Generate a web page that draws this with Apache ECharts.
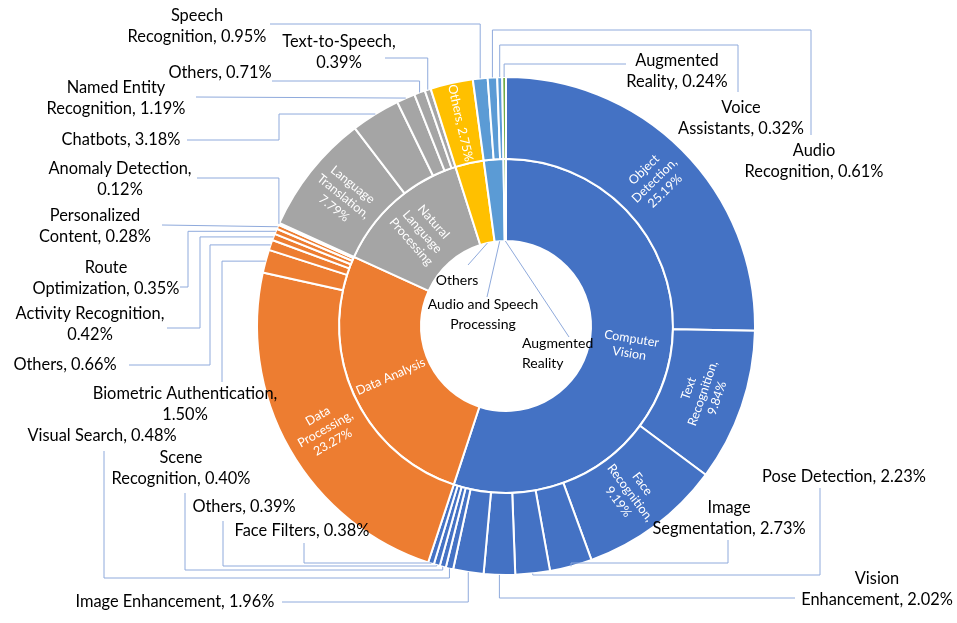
<!DOCTYPE html>
<html>
<head>
<meta charset="utf-8">
<script src="https://cdn.jsdelivr.net/npm/echarts@6/dist/echarts.min.js"></script>
<style>
html,body{margin:0;padding:0;background:#fff;}
#chart{width:957px;height:623px;}
</style>
</head>
<body>
<div id="chart"></div>
<script>
// ---------------- data ----------------
const groupNames = ['Computer Vision', 'Data Analysis', 'Natural Language Processing', 'Others', 'Audio and Speech Processing', 'Augmented Reality'];
const groupColors = ['#4472C4', '#ED7D31', '#A5A5A5', '#FFC000', '#5B9BD5', '#70AD47'];

const cvNames = ['Object Detection', 'Text Recognition', 'Face Recognition', 'Image Segmentation', 'Pose Detection', 'Vision Enhancement', 'Image Enhancement', 'Visual Search', 'Scene Recognition', 'Others', 'Face Filters'];
const cvValues = [25.19, 9.84, 9.19, 2.73, 2.23, 2.02, 1.96, 0.48, 0.40, 0.39, 0.38];

const daNames = ['Data Processing', 'Biometric Authentication', 'Others', 'Activity Recognition', 'Route Optimization', 'Personalized Content', 'Anomaly Detection'];
const daValues = [23.27, 1.50, 0.66, 0.42, 0.35, 0.28, 0.12];

const nlpNames = ['Language Translation', 'Chatbots', 'Named Entity Recognition', 'Others', 'Text-to-Speech'];
const nlpValues = [7.79, 3.18, 1.19, 0.71, 0.39];

const othNames = ['Others'];
const othValues = [2.75];

const aspNames = ['Speech Recognition', 'Audio Recognition', 'Voice Assistants'];
const aspValues = [0.95, 0.61, 0.32];

const arNames = ['Augmented Reality'];
const arValues = [0.24];

const childNames = [cvNames, daNames, nlpNames, othNames, aspNames, arNames];
const childValues = [cvValues, daValues, nlpValues, othValues, aspValues, arValues];

// ---------------- layout / style ----------------
const CX = 506, CY = 326, R0 = 85, R1 = 167, R2 = 249;
const FONT = 'Lato, "Open Sans", sans-serif';
const LINE_COLOR = '#8FAADC';

// labels drawn inside the sectors (white)
const insideLabels = {
  'Computer Vision': {rotate: 'radial', each: true, pct: false, size: 12.5},
  'Data Analysis': {rotate: 'radial', each: false, pct: false, size: 12.5},
  'Natural Language Processing': {rotate: 'radial', each: true, pct: false, size: 12.5},
  'Computer Vision|Object Detection': {rotate: 'radial', each: true, pct: true, size: 12.5},
  'Computer Vision|Text Recognition': {rotate: 'tangential', each: true, pct: true, size: 12.5},
  'Computer Vision|Face Recognition': {rotate: 'radial', each: true, pct: true, size: 12.5},
  'Data Analysis|Data Processing': {rotate: 'radial', each: true, pct: true, size: 12.5},
  'Natural Language Processing|Language Translation': {rotate: 'radial', each: true, pct: true, size: 12.5},
  'Others|Others': {rotate: 'radial', each: false, pct: true, size: 12.5}
};

// labels placed around the chart with leader lines (outer ring)
const outerLabels = {
  'Audio and Speech Processing|Speech Recognition': {x: 197, y: 26, wrap: 1, route: [['v', 24], ['h', 270]]},
  'Audio and Speech Processing|Audio Recognition': {x: 814, y: 161, wrap: 1, route: [['v', 30], ['h', 811], ['v', 135]]},
  'Audio and Speech Processing|Voice Assistants': {x: 741, y: 118, wrap: 1, route: [['v', 45], ['h', 738], ['v', 92]]},
  'Augmented Reality|Augmented Reality': {x: 677, y: 71, wrap: 1, route: [['v', 64], ['h', 626]]},
  'Natural Language Processing|Text-to-Speech': {x: 339, y: 52, wrap: 1, route: [['v', 58], ['h', 385]]},
  'Natural Language Processing|Others': {x: 220, y: 73, wrap: 0, route: [['v', 81], ['h', 272]]},
  'Natural Language Processing|Named Entity Recognition': {x: 116, y: 98, wrap: 2, route: [['p', 196, 97]]},
  'Natural Language Processing|Chatbots': {x: 121, y: 140, wrap: 0, route: [['h', 279], ['v', 140], ['h', 187]]},
  'Data Analysis|Anomaly Detection': {x: 120, y: 179, wrap: 2, route: [['v', 178], ['h', 197]]},
  'Data Analysis|Personalized Content': {x: 95, y: 226, wrap: 1, route: [['p', 162, 225]]},
  'Data Analysis|Route Optimization': {x: 106, y: 278, wrap: 1, route: [['h', 188], ['v', 287], ['h', 180]]},
  'Data Analysis|Activity Recognition': {x: 90, y: 324, wrap: 2, route: [['h', 200], ['v', 328], ['h', 167]]},
  'Data Analysis|Others': {x: 65, y: 365, wrap: 0, route: [['h', 210], ['v', 365], ['h', 129]]},
  'Data Analysis|Biometric Authentication': {x: 185, y: 404, wrap: 2, route: [['h', 222], ['v', 382]]},
  'Computer Vision|Visual Search': {x: 102, y: 436, wrap: 0, route: [['v', 578], ['h', 104], ['v', 451]]},
  'Computer Vision|Scene Recognition': {x: 181, y: 468, wrap: 1, route: [['v', 570], ['h', 185], ['v', 493]]},
  'Computer Vision|Others': {x: 244, y: 507, wrap: 0, route: [['v', 566], ['h', 223], ['v', 521]]},
  'Computer Vision|Face Filters': {x: 302, y: 531, wrap: 0, route: [['v', 563], ['h', 304], ['v', 543]]},
  'Computer Vision|Image Enhancement': {x: 175, y: 602, wrap: 0, route: [['v', 602], ['h', 282]]},
  'Computer Vision|Vision Enhancement': {x: 877, y: 589, wrap: 1, route: [['v', 598], ['h', 795]]},
  'Computer Vision|Pose Detection': {x: 844, y: 477, wrap: 0, route: [['v', 575], ['h', 820], ['v', 488]]},
  'Computer Vision|Image Segmentation': {x: 729, y: 518, wrap: 1, route: [['v', 563], ['h', 728], ['v', 540]]}
};

// labels of small inner-ring sectors, placed in the hole
const innerLabels = {
  'Others': {x: 457, y: 280, wrap: 0, route: [['p', 468, 265]]},
  'Audio and Speech Processing': {x: 483, y: 314, wrap: 3, route: [['p', 487, 297]]},
  'Augmented Reality': {x: 522, y: 353, align: 'left', wrap: 1, route: [['p', 569, 337]]}
};

function pctText(v) { return v.toFixed(2) + '%'; }
function wrapText(text, k) {
  if (!k) return text;
  const w = text.split(' ');
  return w.slice(0, k).join(' ') + '\n' + w.slice(k).join(' ');
}
function insideText(name, value, cfg) {
  let t = cfg.pct ? name + ', ' + pctText(value) : name;
  return cfg.each ? t.split(' ').join('\n') : t;
}

// ---------------- sunburst data ----------------
const sunData = groupNames.map((g, gi) => {
  const gcfg = insideLabels[g];
  const gsum = childValues[gi].reduce((a, b) => a + b, 0);
  return {
    name: g,
    itemStyle: {color: groupColors[gi]},
    label: gcfg ? {show: true, rotate: gcfg.rotate, formatter: insideText(g, gsum, gcfg), fontSize: gcfg.size} : {show: false},
    children: childNames[gi].map((n, ci) => {
      const key = g + '|' + n;
      const cfg = insideLabels[key];
      const v = childValues[gi][ci];
      return {
        name: n,
        value: v,
        itemStyle: {color: groupColors[gi]},
        label: cfg ? {show: true, rotate: cfg.rotate, formatter: insideText(n, v, cfg), fontSize: cfg.size} : {show: false}
      };
    })
  };
});

// ---------------- pie overlays for leader-line labels ----------------
const outerPieData = [];
const outerCfgList = [];
groupNames.forEach((g, gi) => {
  childNames[gi].forEach((n, ci) => {
    const key = g + '|' + n;
    const cfg = outerLabels[key];
    const v = childValues[gi][ci];
    outerCfgList.push(cfg || null);
    outerPieData.push({
      name: n,
      value: v,
      label: cfg ? {show: true, formatter: wrapText(n + ', ' + pctText(v), cfg.wrap)} : {show: false},
      labelLine: {show: !!cfg}
    });
  });
});
const totalValue = outerPieData.reduce((a, d) => a + d.value, 0);

const innerPieData = [];
const innerCfgList = [];
groupNames.forEach((g, gi) => {
  const cfg = innerLabels[g];
  const v = childValues[gi].reduce((a, b) => a + b, 0);
  innerCfgList.push(cfg || null);
  innerPieData.push({
    name: g,
    value: v,
    label: cfg ? {show: true, formatter: wrapText(g, cfg.wrap)} : {show: false},
    labelLine: {show: !!cfg}
  });
});

function fallbackAnchor(dataList, idx, r) {
  let cum = 0;
  for (let i = 0; i < idx; i++) cum += dataList[i].value;
  cum += dataList[idx].value / 2;
  const ang = cum / totalValue * Math.PI * 2;
  return [CX + r * Math.sin(ang), CY - r * Math.cos(ang)];
}

function makeLayout(cfgList, dataList, anchorR) {
  return function (p) {
    const cfg = cfgList[p.dataIndex];
    if (!cfg) return {};
    let a = (p.labelLinePoints && p.labelLinePoints[0]) ? p.labelLinePoints[0].slice() : fallbackAnchor(dataList, p.dataIndex, anchorR);
    const dx = a[0] - CX, dy = a[1] - CY, d = Math.hypot(dx, dy) || 1;
    a = [CX + dx / d * anchorR, CY + dy / d * anchorR];
    const pts = [a.slice()];
    let cur = a.slice();
    cfg.route.forEach(s => {
      if (s[0] === 'v') cur = [cur[0], s[1]];
      else if (s[0] === 'h') cur = [s[1], cur[1]];
      else cur = [s[1], s[2]];
      pts.push(cur.slice());
    });
    return {
      x: cfg.x, y: cfg.y,
      align: cfg.align || 'center',
      verticalAlign: 'middle',
      labelLinePoints: pts
    };
  };
}

const overlayCommon = {
  type: 'pie',
  center: [CX, CY],
  startAngle: 90,
  clockwise: true,
  silent: true,
  avoidLabelOverlap: false,
  itemStyle: {color: 'rgba(0,0,0,0)', borderWidth: 0},
  emphasis: {disabled: true},
  labelLine: {lineStyle: {color: LINE_COLOR, width: 1}, length: 5, length2: 5},
  z: 5
};

const chart = echarts.init(document.getElementById('chart'), null, {renderer: 'canvas'});
chart.setOption({
  animation: false,
  backgroundColor: '#ffffff',
  series: [
    {
      type: 'sunburst',
      center: [CX, CY],
      radius: [R0, R2],
      startAngle: 90,
      sort: null,
      nodeClick: false,
      emphasis: {disabled: true},
      data: sunData,
      itemStyle: {borderColor: '#ffffff', borderWidth: 2},
      label: {color: '#ffffff', fontFamily: FONT, fontSize: 12.5, lineHeight: 15, align: 'center'},
      levels: [
        {},
        {r0: R0, r: R1},
        {r0: R1, r: R2}
      ]
    },
    Object.assign({}, overlayCommon, {
      name: 'outer',
      radius: [R1, R2],
      data: outerPieData,
      label: {position: 'outside', color: '#000000', fontFamily: FONT, fontSize: 16.4, lineHeight: 21},
      labelLayout: makeLayout(outerCfgList, outerPieData, R2)
    }),
    Object.assign({}, overlayCommon, {
      name: 'inner',
      radius: [R0, R1],
      data: innerPieData,
      label: {position: 'outside', color: '#000000', fontFamily: FONT, fontSize: 14, lineHeight: 20},
      labelLayout: makeLayout(innerCfgList, innerPieData, R0)
    })
  ]
});
</script>
</body>
</html>
